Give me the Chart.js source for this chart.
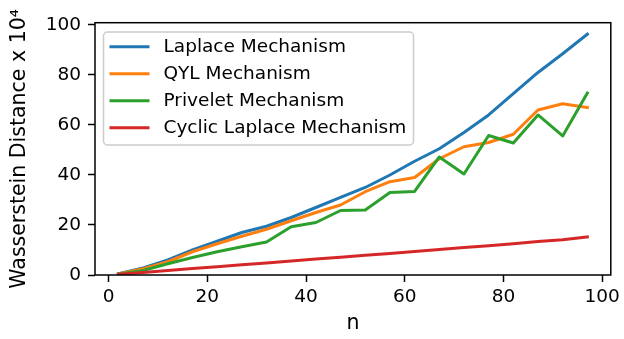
<!DOCTYPE html>
<html>
<head>
<meta charset="utf-8">
<script src="https://cdn.jsdelivr.net/npm/chart.js@4.4.0/dist/chart.umd.min.js"></script>
<style>
  html, body { margin: 0; padding: 0; background: #fff; }
</style>
</head>
<body>
<canvas id="chart" width="624" height="339"></canvas>
<script>
// n values on the x axis
const nValues = [2, 7, 12, 17, 22, 27, 32, 37, 42, 47, 52, 57, 62, 67, 72, 77, 82, 87, 92, 97];

// Wasserstein distance x 10^4
const laplace  = [0.5, 2.8, 6.0, 10.0, 13.5, 17.0, 19.5, 23.0, 27.0, 31.0, 35.0, 40.0, 45.5, 50.5, 57.0, 64.0, 72.5, 81.0, 88.5, 96.3];
const qyl      = [0.4, 2.5, 5.3, 9.3, 12.5, 15.5, 18.3, 21.7, 25.0, 28.0, 33.3, 37.3, 39.0, 46.5, 51.3, 53.0, 56.3, 66.0, 68.5, 67.0];
const privelet = [0.3, 1.8, 4.5, 7.0, 9.3, 11.3, 13.2, 19.3, 21.0, 25.8, 26.0, 33.0, 33.4, 47.2, 40.4, 55.8, 52.8, 64.0, 55.6, 72.8];
const cyclic   = [0.3, 1.0, 1.8, 2.6, 3.3, 4.1, 4.8, 5.6, 6.4, 7.1, 7.9, 8.6, 9.4, 10.2, 11.0, 11.7, 12.5, 13.4, 14.1, 15.2];

const seriesNames  = ['Laplace Mechanism', 'QYL Mechanism', 'Privelet Mechanism', 'Cyclic Laplace Mechanism'];
const seriesValues = [laplace, qyl, privelet, cyclic];
const seriesColors = ['#1f77b4', '#ff7f0e', '#2ca02c', '#d62728'];

const xTicks = [0, 20, 40, 60, 80, 100];
const yTicks = [0, 20, 40, 60, 80, 100];

const FONT = 'DejaVu Sans';
const FS = 18.5;      // tick and legend text
const TITLE_FS = 20.5; // axis titles

// frame round the plot and a matplotlib-like legend box
const frameAndLegend = {
  id: 'frameAndLegend',
  afterDatasetsDraw(chart) {
    const { ctx, chartArea: a } = chart;
    ctx.save();
    ctx.strokeStyle = '#000';
    ctx.lineWidth = 1.5;
    ctx.strokeRect(a.left, a.top, a.right - a.left, a.bottom - a.top);

    // legend
    const bx = 103.5, by = 32, bw = 310, bh = 113, r = 4;
    ctx.beginPath();
    ctx.moveTo(bx + r, by);
    ctx.arcTo(bx + bw, by, bx + bw, by + bh, r);
    ctx.arcTo(bx + bw, by + bh, bx, by + bh, r);
    ctx.arcTo(bx, by + bh, bx, by, r);
    ctx.arcTo(bx, by, bx + bw, by, r);
    ctx.closePath();
    ctx.fillStyle = 'rgba(255,255,255,0.8)';
    ctx.fill();
    ctx.strokeStyle = '#cccccc';
    ctx.lineWidth = 1.5;
    ctx.stroke();

    ctx.font = `${FS}px ${FONT}`;
    ctx.textBaseline = 'middle';
    ctx.textAlign = 'left';
    chart.data.datasets.forEach((ds, i) => {
      const y = 46.7 + i * 27;
      ctx.beginPath();
      ctx.moveTo(109.5, y);
      ctx.lineTo(149.5, y);
      ctx.strokeStyle = ds.borderColor;
      ctx.lineWidth = 3;
      ctx.stroke();
      ctx.fillStyle = '#000';
      ctx.fillText(ds.label, 163.5, y);
    });
    ctx.restore();
  }
};

const datasets = seriesNames.map((name, i) => ({
  label: name,
  data: nValues.map((n, j) => ({ x: n, y: seriesValues[i][j] })),
  borderColor: seriesColors[i],
  backgroundColor: seriesColors[i],
  borderWidth: 3,
  borderCapStyle: 'square',
  borderJoinStyle: 'round',
  pointRadius: 0,
  tension: 0,
  fill: false,
  order: seriesNames.length - i
}));

new Chart(document.getElementById('chart').getContext('2d'), {
  type: 'line',
  data: { datasets },
  options: {
    responsive: false,
    animation: false,
    devicePixelRatio: 1,
    layout: { padding: { left: 0, right: 11, top: 22.7, bottom: 0 } },
    plugins: {
      legend: { display: false },
      tooltip: { enabled: false }
    },
    scales: {
      x: {
        type: 'linear',
        min: -2.75,
        max: 101.75,
        afterBuildTicks: s => { s.ticks = xTicks.map(v => ({ value: v })); },
        afterFit: s => { s.height = 64; },
        grid: { display: true, drawOnChartArea: false, drawTicks: true, tickLength: 7, tickWidth: 1.5, tickColor: '#000' },
        border: { display: false },
        ticks: { color: '#000', font: { family: FONT, size: FS }, padding: 4, maxRotation: 0, autoSkip: false },
        title: { display: true, text: 'n', color: '#000', font: { family: FONT, size: TITLE_FS }, padding: { top: 0, bottom: 3.5 } }
      },
      y: {
        type: 'linear',
        min: 0,
        max: 100.9,
        afterBuildTicks: s => { s.ticks = yTicks.map(v => ({ value: v })); },
        afterFit: s => { s.width = 95; },
        grid: { display: true, drawOnChartArea: false, drawTicks: true, tickLength: 7, tickWidth: 1.5, tickColor: '#000' },
        border: { display: false },
        ticks: { color: '#000', font: { family: FONT, size: FS }, padding: 7, autoSkip: false },
        title: { display: true, text: 'Wasserstein Distance x 10⁴', color: '#000', font: { family: FONT, size: TITLE_FS }, padding: { top: 7.5, bottom: 0 } }
      }
    }
  },
  plugins: [frameAndLegend]
});
</script>
</body>
</html>
